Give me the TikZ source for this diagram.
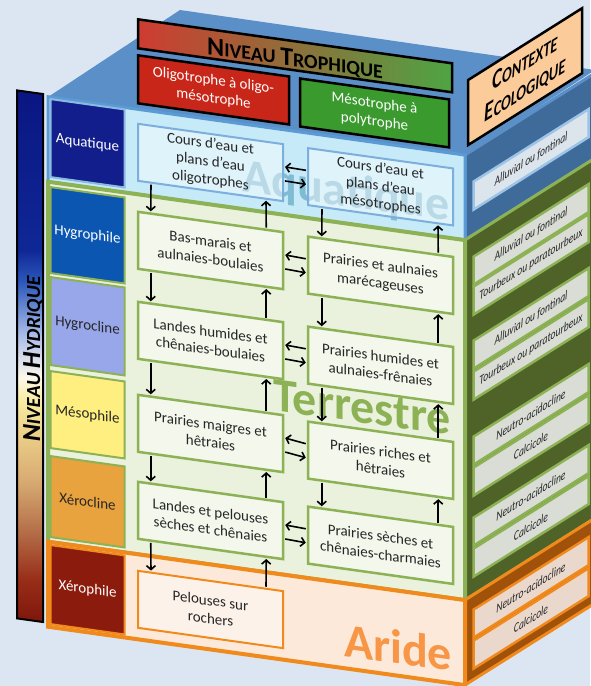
\documentclass[tikz,border=0pt]{standalone}
\usepackage{fontspec}
\setmainfont{Carlito}
\usepackage{graphicx}
\usetikzlibrary{calc, arrows.meta}

\definecolor{bgBlue}{HTML}{DCE6F2}
\definecolor{topBlue}{HTML}{5B8FC7}
\definecolor{sideBlue}{HTML}{3E6B9A}
\definecolor{aquaFace}{HTML}{C6EAF7}
\definecolor{aquaLine}{HTML}{5B9BD5}
\definecolor{terrFace}{HTML}{EAF1DD}
\definecolor{terrLine}{HTML}{8DB255}
\definecolor{terrSide}{HTML}{4F6228}
\definecolor{aridFace}{HTML}{FDE9D9}
\definecolor{aridLine}{HTML}{F08A1C}
\definecolor{aridSide}{HTML}{A0520B}
\definecolor{tropRed}{HTML}{C9261A}
\definecolor{tropGreen}{HTML}{3A9A2E}
\definecolor{ctxPeach}{HTML}{FBCB99}
\definecolor{boxText}{HTML}{262626}
\definecolor{sideGray}{HTML}{D9DDD5}
\definecolor{sideAqua}{HTML}{DCE4EC}
\definecolor{sideArid}{HTML}{EBD8CC}
% hydric levels
\definecolor{lvAqua}{HTML}{121E8C}
\definecolor{lvHygro}{HTML}{0A56B0}
\definecolor{lvHygrocl}{HTML}{98A6EA}
\definecolor{lvMeso}{HTML}{FFEE80}
\definecolor{lvXeroc}{HTML}{E8A23E}
\definecolor{lvXeroph}{HTML}{8B1B0C}
% big words behind the boxes
\definecolor{wmAqua}{HTML}{80BBD4}
\definecolor{wmTerr}{HTML}{8DB255}
\definecolor{wmArid}{HTML}{F79646}
% stops of the hydric bar, bottom to top
\definecolor{hyd0}{HTML}{7E160C}
\definecolor{hyd1}{HTML}{982E18}
\definecolor{hyd2}{HTML}{B46E48}
\definecolor{hyd3}{HTML}{D6A870}
\definecolor{hyd4}{HTML}{EDD28A}
\definecolor{hyd5}{HTML}{F9EDA5}
\definecolor{hyd6}{HTML}{FDF8EA}
\definecolor{hyd7}{HTML}{A9BDE9}
\definecolor{hyd8}{HTML}{2C58BA}
\definecolor{hyd9}{HTML}{0F2796}
\definecolor{hyd10}{HTML}{0A1682}

\pgfdeclareverticalshading{hydric}{100bp}{color(0bp)=(hyd0); color(25bp)=(hyd0); color(29bp)=(hyd1); color(33.5bp)=(hyd2); color(38bp)=(hyd3); color(43bp)=(hyd4); color(46bp)=(hyd5); color(48bp)=(hyd6); color(52bp)=(hyd7); color(57bp)=(hyd8); color(60bp)=(hyd9); color(75bp)=(hyd10); color(100bp)=(hyd10)}

\newcommand{\fakesc}[2]{{\fontsize{26}{26}\selectfont #1}{\fontsize{20}{20}\selectfont #2}}
\newcommand{\sidetxt}[1]{\scalebox{0.74}[1]{#1}}

\tikzset{
    layer/.style={line width=3pt}, % one layer of the block
    lvlbox/.style={draw=terrLine, line width=2pt, minimum width=74, inner sep=1pt, font=\fontsize{15}{17}\selectfont},
    aquabox/.style={draw=aquaLine!80, line width=2pt, fill=white, fill opacity=0.45, text opacity=1, text=boxText, minimum width=145, minimum height=57, align=center, font=\fontsize{15}{18}\selectfont},
    terrbox/.style={aquabox, draw=terrLine, line width=2.5pt},
    aridbox/.style={aquabox, draw=aridLine},
    tropbox/.style={draw=black, line width=2.5pt, text=white, align=center, minimum height=48, font=\fontsize{15}{18}\selectfont},
    sidebox/.style={draw=terrLine, fill=sideGray, line width=2.5pt, minimum width=115, minimum height=28, inner sep=0pt, text=boxText, font=\fontsize{13}{15}\selectfont\itshape},
    watermark/.style={anchor=base, font=\fontsize{48}{48}\selectfont\bfseries},
    arr/.style={-{Straight Barb[length=4pt,width=9pt]}, line width=1.6pt, shorten >=1pt, shorten <=1pt}
}

\begin{document}
\begin{tikzpicture}[x=1pt, y=-1pt]
    % canvas, in pixels of the reference
    \fill[bgBlue] (0,0) rectangle (590,686);
    \useasboundingbox (0,0) rectangle (590,686);

    % top of the block
    \fill[topBlue] (48,97) -- (180,10) -- (595,70) -- (465,155) -- cycle;

    % side of the block: ecological context
    \begin{scope}[shift={(465,65)}, yslant=0.63, transform shape]
        \draw[layer, fill=sideBlue, draw=topBlue] (0,90) rectangle (130,175);
        \draw[layer, fill=terrSide, draw=terrLine] (0,175) rectangle (130,535);
        \draw[layer, fill=aridSide, draw=aridLine] (0,535) rectangle (130,620);

        \node[draw=black, line width=2.5pt, fill=ctxPeach, minimum width=114, minimum height=65, align=center, font=\fontsize{20}{27}\selectfont\bfseries\itshape] (contexte) at (60,49.5) {\scalebox{0.72}[1]{\fakesc{C}{ONTEXTE}}\\\scalebox{0.72}[1]{\fakesc{E}{COLOGIQUE}}};

        \node[sidebox, draw=aquaLine!60, fill=sideAqua] (alluvAqua) at (66,136) {\sidetxt{Alluvial ou fontinal}};
        \node[sidebox] (alluvHygro) at (66,211) {\sidetxt{Alluvial ou fontinal}};
        \node[sidebox] (tourbHygro) at (66,241) {\sidetxt{Tourbeux ou paratourbeux}};
        \node[sidebox] (alluvHygrocl) at (66,295) {\sidetxt{Alluvial ou fontinal}};
        \node[sidebox] (tourbHygrocl) at (66,326) {\sidetxt{Tourbeux ou paratourbeux}};
        \node[sidebox] (neutroMeso) at (66,391) {\sidetxt{Neutro-acidocline}};
        \node[sidebox] (calciMeso) at (66,422) {\sidetxt{Calcicole}};
        \node[sidebox] (neutroXeroc) at (66,472) {\sidetxt{Neutro-acidocline}};
        \node[sidebox] (calciXeroc) at (66,503) {\sidetxt{Calcicole}};
        \node[sidebox, draw=aridLine, fill=sideArid] (neutroXeroph) at (66,564) {\sidetxt{Neutro-acidocline}};
        \node[sidebox, draw=aridLine, fill=sideArid] (calciXeroph) at (66,595) {\sidetxt{Calcicole}};
    \end{scope}

    % front of the block
    \begin{scope}[yslant=-0.14, transform shape]
        % trophic level header
        \shade[left color=tropRed!90!white, middle color=yellow!20!white, right color=tropGreen!90!white] (138,0) rectangle (452,29);
        \draw[line width=2.5pt] (138,0) rectangle (452,29);
        \node[anchor=base, font=\fontsize{20}{20}\selectfont\bfseries] (trophique) at (295,25) {\fakesc{N}{IVEAU} \fakesc{T}{ROPHIQUE}};
        \node[tropbox, fill=tropRed, minimum width=151] (oligo) at (213.5,60) {Oligotrophe à oligo-\\mésotrophe};
        \node[tropbox, fill=tropGreen, minimum width=149] (meso) at (374.5,60.5) {Mésotrophe à\\polytrophe};

        % the three layers
        \draw[layer, fill=aquaFace, draw=aquaLine] (48,90) rectangle (465,175);
        \draw[layer, line width=4pt, fill=terrFace, draw=terrLine] (48,175) rectangle (465,535);
        \draw[layer, line width=4pt, fill=aridFace, draw=aridLine] (48,535) rectangle (465,620);

        \node[watermark, text=wmAqua] (wAqua) at (346,158) {Aquatique};
        \node[watermark, text=wmTerr] (wTerr) at (362,372) {Terrestre};
        \node[watermark, text=wmArid] (wArid) at (398,608) {Aride};

        % hydric levels
        \node[lvlbox, fill=lvAqua, draw=aquaLine!70, text=white, minimum height=78] (aquatique) at (87.5,131) {Aquatique};
        \node[lvlbox, fill=lvHygro, text=white, minimum height=86] (hygrophile) at (87.5,223) {Hygrophile};
        \node[lvlbox, fill=lvHygrocl, text=boxText, minimum height=88] (hygrocline) at (87.5,314) {Hygrocline};
        \node[lvlbox, fill=lvMeso, text=boxText, minimum height=77] (mesophile) at (87.5,402.5) {Mésophile};
        \node[lvlbox, fill=lvXeroc, text=boxText, minimum height=81] (xerocline) at (87.5,489.5) {Xérocline};
        \node[lvlbox, fill=lvXeroph, draw=aridLine, text=white, minimum height=79] (xerophile) at (87.5,577.5) {Xérophile};

        \shade[shading=hydric] (17,88) rectangle (43,616);
        \draw[line width=2pt] (17,88) rectangle (43,616);
        \node[rotate=90, font=\fontsize{20}{20}\selectfont\bfseries] (hydrique) at (33,354) {\fakesc{N}{IVEAU} \fakesc{H}{YDRIQUE}};

        % habitats
        \node[aquabox] (lAqua) at (210.5,133) {Cours d’eau et\\plans d’eau\\oligotrophes};
        \node[aquabox] (rAqua) at (380.5,133.5) {Cours d’eau et\\plans d’eau\\mésotrophes};
        \node[terrbox] (lHygro) at (210.5,221) {Bas-marais et\\aulnaies-boulaies};
        \node[terrbox] (rHygro) at (380.5,222) {Prairies et aulnaies\\marécageuses};
        \node[terrbox] (lHygrocl) at (210.5,311) {Landes humides et\\chênaies-boulaies};
        \node[terrbox] (rHygrocl) at (380.5,312) {Prairies humides et\\aulnaies-frênaies};
        \node[terrbox] (lMeso) at (210.5,404) {Prairies maigres et\\hêtraies};
        \node[terrbox] (rMeso) at (380.5,407) {Prairies riches et\\hêtraies};
        \node[terrbox] (lXeroc) at (210.5,491) {Landes et pelouses\\sèches et chênaies};
        \node[terrbox] (rXeroc) at (380.5,492) {Prairies sèches et\\chênaies-charmaies};
        \node[aridbox] (lXeroph) at (210.5,580) {Pelouses sur\\rochers};

        % drier / wetter, left column
        \draw[arr] ($(lAqua.south west)+(14,0)$) -- ($(lHygro.north west)+(14,0)$);
        \draw[arr] ($(lHygro.north east)+(-18,0)$) -- ($(lAqua.south east)+(-18,0)$);
        \draw[arr] ($(lHygro.south west)+(14,0)$) -- ($(lHygrocl.north west)+(14,0)$);
        \draw[arr] ($(lHygrocl.north east)+(-18,0)$) -- ($(lHygro.south east)+(-18,0)$);
        \draw[arr] ($(lHygrocl.south west)+(14,0)$) -- ($(lMeso.north west)+(14,0)$);
        \draw[arr] ($(lMeso.north east)+(-18,0)$) -- ($(lHygrocl.south east)+(-18,0)$);
        \draw[arr] ($(lMeso.south west)+(14,0)$) -- ($(lXeroc.north west)+(14,0)$);
        \draw[arr] ($(lXeroc.north east)+(-18,0)$) -- ($(lMeso.south east)+(-18,0)$);
        \draw[arr] ($(lXeroc.south west)+(14,0)$) -- ($(lXeroph.north west)+(14,0)$);
        \draw[arr] ($(lXeroph.north east)+(-18,0)$) -- ($(lXeroc.south east)+(-18,0)$);
        % drier / wetter, right column
        \draw[arr] ($(rAqua.south west)+(15,0)$) -- ($(rHygro.north west)+(15,0)$);
        \draw[arr] ($(rHygro.north east)+(-16,0)$) -- ($(rAqua.south east)+(-16,0)$);
        \draw[arr] ($(rHygro.south west)+(15,0)$) -- ($(rHygrocl.north west)+(15,0)$);
        \draw[arr] ($(rHygrocl.north east)+(-16,0)$) -- ($(rHygro.south east)+(-16,0)$);
        \draw[arr] ($(rHygrocl.south west)+(15,0)$) -- ($(rMeso.north west)+(15,0)$);
        \draw[arr] ($(rMeso.north east)+(-16,0)$) -- ($(rHygrocl.south east)+(-16,0)$);
        \draw[arr] ($(rMeso.south west)+(15,0)$) -- ($(rXeroc.north west)+(15,0)$);
        \draw[arr] ($(rXeroc.north east)+(-16,0)$) -- ($(rMeso.south east)+(-16,0)$);
        % poorer / richer
        \draw[arr] ($(rAqua.west)+(0,-6)$) -- ($(lAqua.east)+(0,-6)$);
        \draw[arr] ($(lAqua.east)+(0,8)$) -- ($(rAqua.west)+(0,8)$);
        \draw[arr] ($(rHygro.west)+(0,-6)$) -- ($(lHygro.east)+(0,-6)$);
        \draw[arr] ($(lHygro.east)+(0,8)$) -- ($(rHygro.west)+(0,8)$);
        \draw[arr] ($(rHygrocl.west)+(0,-6)$) -- ($(lHygrocl.east)+(0,-6)$);
        \draw[arr] ($(lHygrocl.east)+(0,8)$) -- ($(rHygrocl.west)+(0,8)$);
        \draw[arr] ($(rMeso.west)+(0,-6)$) -- ($(lMeso.east)+(0,-6)$);
        \draw[arr] ($(lMeso.east)+(0,8)$) -- ($(rMeso.west)+(0,8)$);
        \draw[arr] ($(rXeroc.west)+(0,-6)$) -- ($(lXeroc.east)+(0,-6)$);
        \draw[arr] ($(lXeroc.east)+(0,8)$) -- ($(rXeroc.west)+(0,8)$);
    \end{scope}
\end{tikzpicture}
\end{document}
